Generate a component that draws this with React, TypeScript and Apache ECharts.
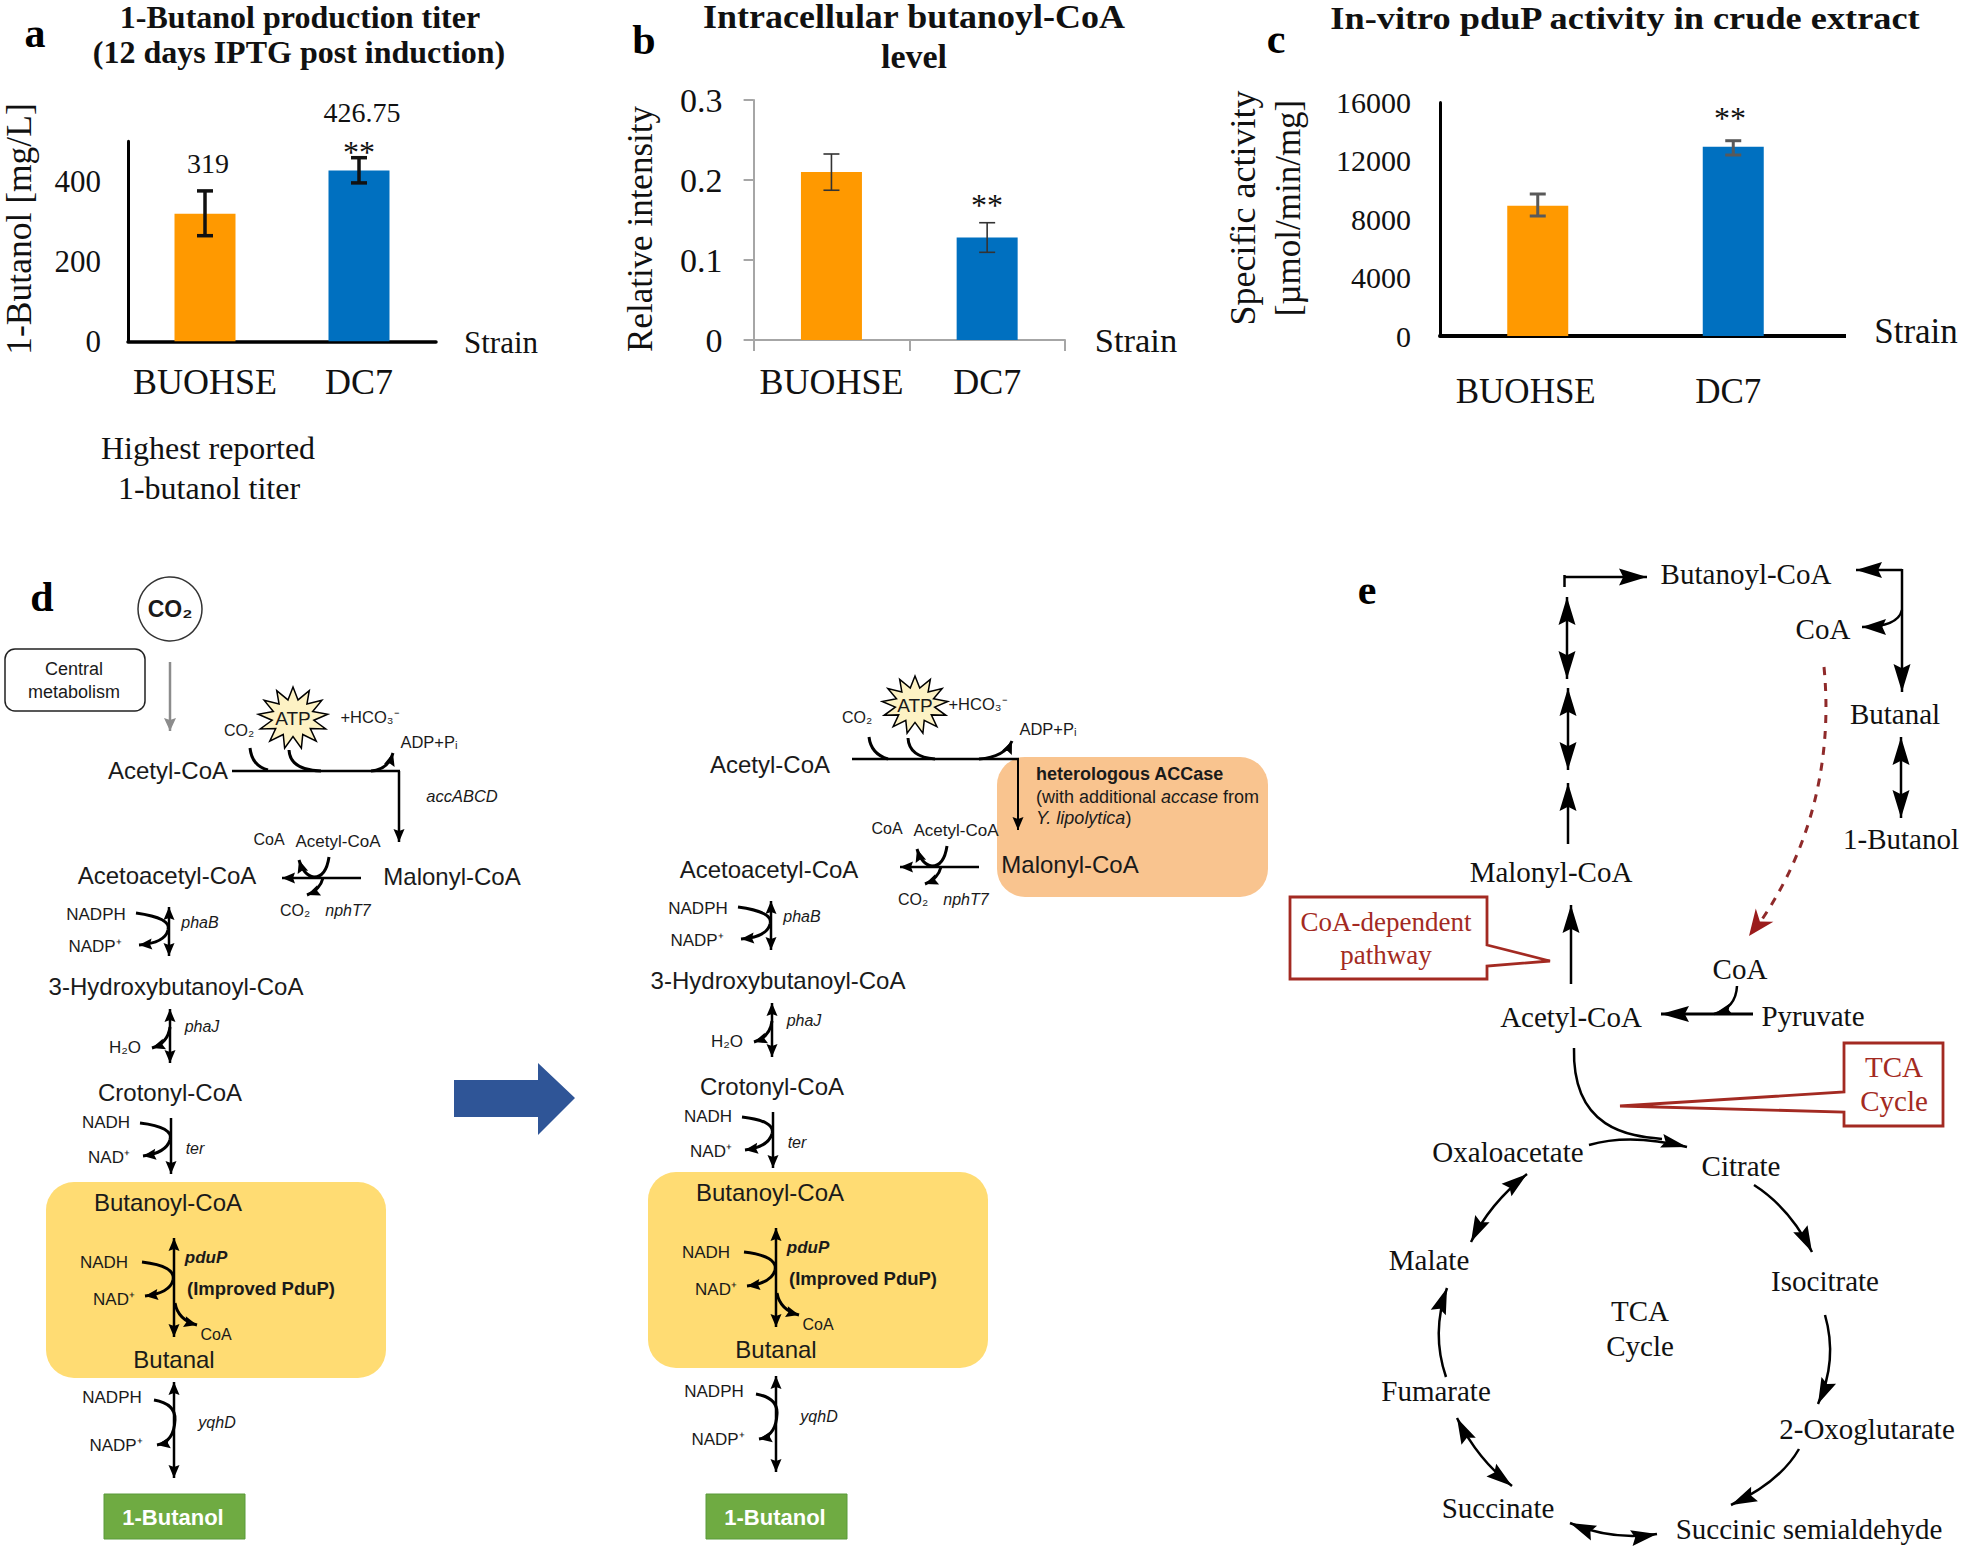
import React, { useEffect, useRef } from "react";
import * as echarts from "echarts";

// ---------- data ----------
const strains = ["BUOHSE", "DC7"];
const titerValues = [319, 426.75];
const titerErrHigh = [376, 459];
const titerErrLow = [264, 396];
const titerTicks = { max: 500, interval: 200 };
const butanoylValues = [0.21, 0.128];
const butanoylErrHigh = [0.2325, 0.1466];
const butanoylErrLow = [0.1872, 0.1096];
const activityValues = [8924, 12966];
const activityErrHigh = [9726, 13376];
const activityErrLow = [8219, 12397];

const SERIF = "'Liberation Serif', 'Times New Roman', serif";
const SANS = "'Liberation Sans', Arial, sans-serif";
const INK = "#1a1a1a";
const BLACK = "#000000";
const RED = "#a32a22";
const ORANGE = "#ff9900";
const BLUE = "#0070c0";

// ---------- graphic helpers ----------
type Opt = {
  size?: number; font?: string; weight?: string; style?: string; fill?: string;
  align?: string; rotate?: number; rich?: any; scaleX?: number;
};
const T = (text: string, x: number, y: number, o: Opt = {}) => ({
  type: "text", x, y, silent: true, rotation: o.rotate ?? 0, scaleX: o.scaleX ?? 1,
  style: {
    text, fontSize: o.size ?? 17, fontFamily: o.font ?? SANS, fontWeight: o.weight ?? "normal",
    fontStyle: o.style ?? "normal", fill: o.fill ?? INK, align: o.align ?? "center",
    verticalAlign: "middle", rich: o.rich,
  },
});
const S = (text: string, x: number, y: number, size = 29, o: Opt = {}) =>
  T(text, x, y, { font: SERIF, size, fill: "#111111", ...o });
const line = (x1: number, y1: number, x2: number, y2: number, lw = 2.5, color = BLACK) => ({
  type: "line", silent: true, shape: { x1, y1, x2, y2 }, style: { stroke: color, lineWidth: lw },
});
const curve = (x1: number, y1: number, cx: number, cy: number, x2: number, y2: number, lw = 3, color = BLACK, dash?: number[]) => ({
  type: "bezierCurve", silent: true, shape: { x1, y1, x2, y2, cpx1: cx, cpy1: cy },
  style: { stroke: color, lineWidth: lw, fill: "none", lineDash: dash },
});
const head = (tx: number, ty: number, fx: number, fy: number, len = 13, hw = 5.5, color = BLACK, notch = 0.85) => {
  const d = Math.hypot(tx - fx, ty - fy) || 1;
  const ux = (tx - fx) / d, uy = (ty - fy) / d;
  const nx = -uy, ny = ux;
  return {
    type: "polygon", silent: true,
    shape: { points: [
      [tx, ty],
      [tx - ux * len + nx * hw, ty - uy * len + ny * hw],
      [tx - ux * len * notch, ty - uy * len * notch],
      [tx - ux * len - nx * hw, ty - uy * len - ny * hw],
    ] },
    style: { fill: color },
  };
};
type AO = { lw?: number; len?: number; hw?: number; both?: boolean; color?: string; dash?: number[] };
const arrow = (x1: number, y1: number, x2: number, y2: number, o: AO = {}) => {
  const { lw = 2.5, len = 13, hw = 5.5, both = false, color = BLACK } = o;
  return [line(x1, y1, x2, y2, lw, color), head(x2, y2, x1, y1, len, hw, color), ...(both ? [head(x1, y1, x2, y2, len, hw, color)] : [])];
};
const carrow = (x1: number, y1: number, cx: number, cy: number, x2: number, y2: number, o: AO = {}) => {
  const { lw = 3, len = 13, hw = 5.5, both = false, color = BLACK, dash } = o;
  return [curve(x1, y1, cx, cy, x2, y2, lw, color, dash), head(x2, y2, cx, cy, len, hw, color), ...(both ? [head(x1, y1, cx, cy, len, hw, color)] : [])];
};
const star = (cx: number, cy: number, rx: number, ry: number) => {
  const pts: number[][] = [];
  const n = 13;
  for (let i = 0; i < n * 2; i++) {
    const a = (i * Math.PI) / n - Math.PI / 2;
    const k = i % 2 === 0 ? 1 : 0.6;
    pts.push([cx + Math.cos(a) * rx * k, cy + Math.sin(a) * ry * k]);
  }
  return { type: "polygon", silent: true, shape: { points: pts }, style: { fill: "#fdf2c4", stroke: BLACK, lineWidth: 1.5 } };
};
const roundBox = (x: number, y: number, w: number, h: number, r: number, fill: string, stroke?: string, lw = 0) => ({
  type: "rect", silent: true, shape: { x, y, width: w, height: h, r },
  style: { fill, stroke: stroke ?? "none", lineWidth: lw },
});

// ---------- pathway column shared by both halves of panel d ----------
const ADD = { size: 17 };
function lowerColumn(dx: number, dA: number, dY: number, dB: number, dG: number) {
  const e: any[] = [];
  const a = dA;
  e.push(T("Acetoacetyl-CoA", 167 + dx, 875 + a, { size: 24 }));
  e.push(T("NADPH", 96 + dx, 914 + a, ADD), T("NADP\u207A", 95 + dx, 946 + a, ADD));
  e.push(T("phaB", 200 + dx, 922 + a, { size: 16, style: "italic" }));
  e.push(...arrow(169 + dx, 907 + a, 169 + dx, 956 + a, { both: true }));
  e.push(curve(136 + dx, 913 + a, 172 + dx, 918 + a, 168 + dx, 930 + a));
  e.push(...carrow(168 + dx, 930 + a, 165 + dx, 943 + a, 139 + dx, 945 + a));
  e.push(T("3-Hydroxybutanoyl-CoA", 176 + dx, 986 + a, { size: 24 }));
  e.push(...arrow(170 + dx, 1009 + a, 170 + dx, 1063 + a, { both: true }));
  e.push(T("phaJ", 202 + dx, 1026 + a, { size: 16, style: "italic" }));
  e.push(T("H\u2082O", 125 + dx, 1047 + a, ADD));
  e.push(...carrow(170 + dx, 1027 + a, 168 + dx, 1043 + a, 152 + dx, 1048 + a));
  e.push(T("Crotonyl-CoA", 170 + dx, 1092 + a, { size: 24 }));
  e.push(T("NADH", 106 + dx, 1122 + a, ADD), T("NAD\u207A", 109 + dx, 1157 + a, ADD));
  e.push(T("ter", 195 + dx, 1148 + a, { size: 16, style: "italic" }));
  e.push(...arrow(171 + dx, 1118 + a, 171 + dx, 1174 + a));
  e.push(curve(140 + dx, 1123 + a, 174 + dx, 1127 + a, 170 + dx, 1140 + a));
  e.push(...carrow(170 + dx, 1140 + a, 166 + dx, 1153 + a, 143 + dx, 1156 + a));

  const y = dY;
  e.push(roundBox(46 + dx, 1182 + y, 340, 196, 28, "#ffdc73"));
  e.push(T("Butanoyl-CoA", 168 + dx, 1202 + y, { size: 24 }));
  e.push(...arrow(174 + dx, 1238 + y, 174 + dx, 1337 + y, { both: true }));
  e.push(T("pduP", 206 + dx, 1257 + y, { size: 17, style: "italic", weight: "bold" }));
  e.push(T("(Improved PduP)", 261 + dx, 1288 + y, { size: 18.5, weight: "bold" }));
  e.push(T("NADH", 104 + dx, 1262 + y, ADD), T("NAD\u207A", 114 + dx, 1299 + y, ADD));
  e.push(curve(142 + dx, 1262 + y, 176 + dx, 1266 + y, 173 + dx, 1280 + y));
  e.push(...carrow(173 + dx, 1280 + y, 170 + dx, 1293 + y, 145 + dx, 1296 + y));
  e.push(...carrow(175 + dx, 1303 + y, 178 + dx, 1320 + y, 197 + dx, 1325 + y));
  e.push(T("CoA", 216 + dx, 1334 + y, { size: 16 }));
  e.push(T("Butanal", 174 + dx, 1359 + y, { size: 24 }));

  const b = dB;
  e.push(...arrow(174 + dx, 1382 + b, 174 + dx, 1478 + b, { both: true }));
  e.push(T("NADPH", 112 + dx, 1397 + b, ADD), T("NADP\u207A", 116 + dx, 1445 + b, ADD));
  e.push(T("yqhD", 217 + dx, 1422 + b, { size: 16, style: "italic" }));
  e.push(curve(154 + dx, 1400 + b, 176 + dx, 1404 + b, 175 + dx, 1420 + b));
  e.push(...carrow(175 + dx, 1420 + b, 174 + dx, 1442 + b, 157 + dx, 1445 + b));

  e.push(roundBox(104 + dx, 1494 + dG, 141, 45, 0, "#6fab42", "#5b9a3a", 1));
  e.push(T("1-Butanol", 173 + dx, 1517 + dG, { size: 22, weight: "bold", fill: "#ffffff" }));
  return e;
}
function nphBlock(dx: number, dy: number) {
  const e: any[] = [];
  e.push(T("CoA", 267 + dx + 2, 843 + dy - 4, { size: 16 }));
  e.push(T("Acetyl-CoA", 337 + dx + 1, 841 + dy, { size: 17 }));
  e.push(...arrow(361 + dx, 878 + dy, 282 + dx, 878 + dy));
  e.push(curve(329 + dx, 857 + dy, 326 + dx, 877 + dy, 314 + dx, 877 + dy));
  e.push(...carrow(314 + dx, 877 + dy, 304 + dx, 876 + dy, 299 + dx, 860 + dy));
  e.push(...carrow(323 + dx, 878 + dy, 320 + dx, 890 + dy, 307 + dx, 895 + dy));
  e.push(T("CO\u2082", 295 + dx, 910 + dy, { size: 16 }));
  e.push(T("nphT7", 348 + dx, 910 + dy, { size: 16, style: "italic" }));
  return e;
}

// ---------- all non-axis elements ----------
function buildGraphic() {
  const g: any[] = [];
  // panel letters
  g.push(S("a", 35, 33, 42, { weight: "bold", fill: BLACK }));
  g.push(S("b", 644, 40, 42, { weight: "bold", fill: BLACK }));
  g.push(S("c", 1276, 39, 42, { weight: "bold", fill: BLACK }));
  g.push(S("d", 42, 597, 42, { weight: "bold", fill: BLACK }));
  g.push(S("e", 1367, 590, 42, { weight: "bold", fill: BLACK }));

  // titles
  g.push(S("1-Butanol production titer", 300, 17, 32, { weight: "bold" }));
  g.push(S("(12 days IPTG post induction)", 299, 52, 32, { weight: "bold" }));
  g.push(S("Intracellular butanoyl-CoA", 914, 17, 33, { weight: "bold", scaleX: 1.09 }));
  g.push(S("level", 914, 56, 34, { weight: "bold" }));
  g.push(S("In-vitro pduP activity in crude extract", 1625, 18, 32, { weight: "bold", scaleX: 1.135 }));

  // axis names and chart annotations
  const up = Math.PI / 2;
  g.push(S("1-Butanol [mg/L]", 19, 229, 35.5, { rotate: up }));
  g.push(S("Relative intensity", 640, 229, 35, { rotate: up }));
  g.push(S("Specific activity", 1243, 208, 36, { rotate: up }));
  g.push(S("[\u00B5mol/min/mg]", 1288, 208, 35, { rotate: up }));
  g.push(S("Strain", 501, 342, 31), S("Strain", 1136, 340, 34.5), S("Strain", 1916, 331, 35));
  g.push(S(String(titerValues[0]), 208, 163, 28), S(String(titerValues[1]), 362, 112, 28));
  g.push(S("**", 359, 152, 32), S("**", 987, 205, 32), S("**", 1730, 118, 32));
  g.push(S("Highest reported", 208, 448, 32), S("1-butanol titer", 209, 488, 32));
  g.push(line(1440, 336, 1846, 336, 4, BLACK));

  // panel d, left
  g.push({ type: "circle", silent: true, shape: { cx: 170, cy: 609, r: 32 }, style: { fill: "#fff", stroke: "#333", lineWidth: 1.5 } });
  g.push(T("CO\u2082", 170, 609, { size: 23, weight: "bold" }));
  g.push(roundBox(5, 649, 140, 62, 10, "#fff", "#222", 1.5));
  g.push(T("Central", 74, 669, { size: 18 }), T("metabolism", 74, 692, { size: 18 }));
  g.push(...arrow(170, 662, 170, 731, { color: "#8c8c8c", lw: 2.5, len: 13, hw: 6 }));
  g.push(star(293, 718, 35, 31), T("ATP", 293, 718, { size: 19 }));
  g.push(T("CO\u2082", 239, 730, { size: 16 }), T("+HCO\u2083\u207B", 370, 717, { size: 16.5 }), T("ADP+P\u1D62", 429, 742, { size: 16.5 }));
  g.push(T("Acetyl-CoA", 168, 770, { size: 24 }));
  g.push(line(232, 771, 400, 771, 2.5));
  g.push(...arrow(399, 771, 399, 842));
  g.push(curve(250, 748, 252, 766, 268, 770));
  g.push(curve(289, 750, 290, 770, 321, 771));
  g.push(...carrow(371, 771, 388, 770, 393, 753));
  g.push(T("accABCD", 462, 796, { size: 16.5, style: "italic" }));
  g.push(T("Malonyl-CoA", 452, 876, { size: 24 }));
  g.push(...nphBlock(0, 0));
  g.push(...lowerColumn(0, 0, 0, 0, 0));

  // big arrow
  g.push({
    type: "polygon", silent: true,
    shape: { points: [[454, 1080], [538, 1080], [538, 1063], [575, 1098], [538, 1135], [538, 1117], [454, 1117]] },
    style: { fill: "#2f5597" },
  });

  // panel d, right
  g.push(roundBox(997, 757, 271, 140, 28, "#f9c48f"));
  g.push(star(915, 705, 33, 29), T("ATP", 915, 705, { size: 19 }));
  g.push(T("CO\u2082", 857, 717, { size: 16 }), T("+HCO\u2083\u207B", 978, 704, { size: 16.5 }), T("ADP+P\u1D62", 1048, 729, { size: 16.5 }));
  g.push(T("Acetyl-CoA", 770, 764, { size: 24 }));
  g.push(line(852, 759, 1019, 759, 2.5));
  g.push(...arrow(1018, 759, 1018, 830, { lw: 2 }));
  g.push(curve(869, 737, 871, 754, 888, 759));
  g.push(curve(908, 738, 909, 757, 935, 759));
  g.push(...carrow(979, 759, 1005, 757, 1012, 741));
  const italicRich = { i: { fontStyle: "italic", fontSize: 18, fontFamily: SANS, fill: INK } };
  g.push(T("heterologous ACCase", 1036, 774, { size: 18, weight: "bold", align: "left" }));
  g.push(T("(with additional {i|accase} from", 1036, 797, { size: 18, align: "left", rich: italicRich }));
  g.push(T("{i|Y. lipolytica})", 1036, 818, { size: 18, align: "left", rich: italicRich }));
  g.push(T("Malonyl-CoA", 1070, 864, { size: 24 }));
  g.push(...nphBlock(618, -11));
  g.push(...lowerColumn(602, -6, -10, -6, 0));

  // panel e
  const big: AO = { lw: 2.5, len: 28, hw: 8.5 };
  g.push(line(1564.5, 575, 1564.5, 587, 2.5));
  g.push(...arrow(1564.5, 577, 1647, 577, big));
  g.push(S("Butanoyl-CoA", 1746, 574));
  g.push(...arrow(1567, 597, 1567, 679, { ...big, both: true }));
  g.push(...arrow(1568, 688, 1568, 770, { ...big, both: true }));
  g.push(...arrow(1568, 844, 1568, 783, big));
  g.push(S("Malonyl-CoA", 1551, 872));
  g.push(...arrow(1571, 984, 1571, 905, big));
  g.push(S("Acetyl-CoA", 1571, 1017));

  g.push(...arrow(1902, 570, 1856, 570, { lw: 2.5, len: 26, hw: 8 }));
  g.push(...arrow(1902, 569, 1902, 692, big));
  g.push(...carrow(1902, 610, 1898, 627, 1862, 627, { lw: 2.5, len: 24, hw: 8 }));
  g.push(S("CoA", 1823, 629), S("Butanal", 1895, 714), S("1-Butanol", 1901, 839));
  g.push(...arrow(1901, 737, 1901, 818, { ...big, both: true }));

  g.push({
    type: "bezierCurve", silent: true,
    shape: { x1: 1824, y1: 667, cpx1: 1834, cpy1: 770, cpx2: 1805, cpy2: 860, x2: 1756, y2: 928 },
    style: { stroke: "#8f2a2a", lineWidth: 3, fill: "none", lineDash: [8, 8] },
  });
  g.push(head(1749, 936, 1767, 912, 26, 11, "#9b1c1c", 0.7));

  g.push(S("CoA", 1740, 969), S("Pyruvate", 1813, 1016));
  g.push(...arrow(1753, 1014, 1661, 1014, { lw: 3, len: 28, hw: 8 }));
  g.push(...carrow(1737, 986, 1736, 1008, 1714, 1014, { lw: 2.5, len: 18, hw: 6 }));

  const callout = (pts: number[][]) => ({
    type: "polygon", silent: true, shape: { points: pts }, style: { fill: "#fff", stroke: RED, lineWidth: 2.8 },
  });
  g.push(callout([[1290, 897], [1487, 897], [1487, 945], [1550, 961], [1487, 966], [1487, 979], [1290, 979]]));
  g.push(S("CoA-dependent", 1386, 922, 27, { fill: RED }), S("pathway", 1386, 955, 27, { fill: RED }));
  g.push(callout([[1844, 1043], [1943, 1043], [1943, 1126], [1844, 1126], [1844, 1112], [1620, 1106], [1844, 1092]]));
  g.push(S("TCA", 1894, 1067, 29, { fill: RED }), S("Cycle", 1894, 1101, 29, { fill: RED }));

  // TCA cycle
  g.push({
    type: "bezierCurve", silent: true,
    shape: { x1: 1574, y1: 1048, cpx1: 1572, cpy1: 1130, cpx2: 1630, cpy2: 1136, x2: 1662, y2: 1139 },
    style: { stroke: BLACK, lineWidth: 2.5, fill: "none" },
  });
  g.push(...carrow(1589, 1145, 1630, 1133, 1687, 1147, { lw: 2.5, len: 26, hw: 7 }));
  const cyc: AO = { lw: 2.5, len: 26, hw: 8 };
  g.push(S("Oxaloacetate", 1508, 1152), S("Citrate", 1741, 1166), S("Isocitrate", 1825, 1281));
  g.push(S("2-Oxoglutarate", 1867, 1429), S("Succinic semialdehyde", 1809, 1529), S("Succinate", 1498, 1508));
  g.push(S("Fumarate", 1436, 1391), S("Malate", 1429, 1260), S("TCA", 1640, 1311), S("Cycle", 1640, 1346));
  g.push(...carrow(1754, 1185, 1790, 1208, 1812, 1252, cyc));
  g.push(...carrow(1825, 1315, 1838, 1360, 1818, 1404, cyc));
  g.push(...carrow(1799, 1449, 1780, 1482, 1731, 1505, cyc));
  g.push(...carrow(1657, 1534, 1613, 1541, 1570, 1523, { ...cyc, both: true }));
  g.push(...carrow(1512, 1486, 1478, 1460, 1457, 1418, { ...cyc, both: true }));
  g.push(...carrow(1446, 1377, 1431, 1333, 1447, 1288, cyc));
  g.push(...carrow(1471, 1242, 1490, 1203, 1527, 1174, { ...cyc, both: true }));
  return g;
}

// ---------- chart option ----------
const axisIdx = (i: number) => ({ xAxisIndex: i, yAxisIndex: i });
const errorRender = (color: string, lw: number, cap: number) => (_p: any, api: any) => {
  const hi = api.coord([api.value(0), api.value(1)]);
  const lo = api.coord([api.value(0), api.value(2)]);
  const st = { stroke: color, lineWidth: lw };
  return {
    type: "group",
    children: [
      { type: "line", shape: { x1: hi[0], y1: hi[1], x2: lo[0], y2: lo[1] }, style: st },
      { type: "line", shape: { x1: hi[0] - cap, y1: hi[1], x2: hi[0] + cap, y2: hi[1] }, style: st },
      { type: "line", shape: { x1: lo[0] - cap, y1: lo[1], x2: lo[0] + cap, y2: lo[1] }, style: st },
    ],
  };
};
const barSeries = (i: number, values: number[]) => ({
  type: "bar", ...axisIdx(i), barWidth: 61, silent: true,
  data: values.map((v, k) => ({ value: v, itemStyle: { color: k === 0 ? ORANGE : BLUE } })),
});
const errSeries = (i: number, hi: number[], lo: number[], color: string, lw: number, cap: number) => ({
  type: "custom", ...axisIdx(i), silent: true, z: 5,
  renderItem: errorRender(color, lw, cap),
  data: hi.map((h, k) => [k, h, lo[k]]),
  encode: { x: 0, y: [1, 2] },
});
const labelFont = { fontFamily: SERIF, color: "#111111" };
const plain = (v: number) => String(v);

function buildOption() {
  return {
    animation: false,
    backgroundColor: "#ffffff",
    grid: [
      { left: 128, top: 141.3, width: 308, height: 200 },
      { left: 753.6, top: 100, width: 311.4, height: 240 },
      { left: 1440, top: 102.4, width: 391, height: 233.6 },
    ],
    xAxis: [
      {
        gridIndex: 0, type: "category", data: strains,
        axisLine: { lineStyle: { color: BLACK, width: 3.5 } }, axisTick: { show: false },
        axisLabel: { ...labelFont, fontSize: 36, margin: 23, interval: 0, hideOverlap: false },
      },
      {
        gridIndex: 1, type: "category", data: strains,
        axisLine: { lineStyle: { color: "#a6a6a6", width: 2 } },
        axisTick: { show: true, length: 11, lineStyle: { color: "#a6a6a6", width: 2 } },
        axisLabel: { ...labelFont, fontSize: 36, margin: 24, interval: 0, hideOverlap: false },
      },
      {
        gridIndex: 2, type: "category", data: strains,
        axisLine: { lineStyle: { color: BLACK, width: 4 } }, axisTick: { show: false },
        axisLabel: {
          ...labelFont, fontSize: 35, margin: 38, interval: 0, hideOverlap: false,
          formatter: (v: string) => (v === strains[0] ? `{a|${v}}` : `{b|${v}}`),
          rich: {
            a: { ...labelFont, fontSize: 35, padding: [0, 24, 0, 0] },
            b: { ...labelFont, fontSize: 35, padding: [0, 10, 0, 0] },
          },
        },
      },
    ],
    yAxis: [
      {
        gridIndex: 0, type: "value", min: 0, max: titerTicks.max, interval: titerTicks.interval,
        splitLine: { show: false },
        axisLine: { show: true, lineStyle: { color: BLACK, width: 3 } }, axisTick: { show: false },
        axisLabel: { ...labelFont, fontSize: 31, margin: 27, showMaxLabel: false },
      },
      {
        gridIndex: 1, type: "value", min: 0, max: 0.3, interval: 0.1,
        splitLine: { show: false },
        axisLine: { show: true, lineStyle: { color: "#a6a6a6", width: 2 } },
        axisTick: { show: true, length: 10, lineStyle: { color: "#a6a6a6", width: 2 } },
        axisLabel: { ...labelFont, fontSize: 34, margin: 31 },
      },
      {
        gridIndex: 2, type: "value", min: 0, max: 16000, interval: 4000,
        splitLine: { show: false },
        axisLine: { show: true, lineStyle: { color: BLACK, width: 3 } }, axisTick: { show: false },
        axisLabel: { ...labelFont, fontSize: 30, margin: 29, formatter: plain },
      },
    ],
    series: [
      barSeries(0, titerValues),
      barSeries(1, butanoylValues),
      barSeries(2, activityValues),
      errSeries(0, titerErrHigh, titerErrLow, "#111111", 3.5, 8),
      errSeries(1, butanoylErrHigh, butanoylErrLow, "#333333", 1.6, 8),
      errSeries(2, activityErrHigh, activityErrLow, "#595959", 3, 8),
    ],
    graphic: { elements: buildGraphic() },
  };
}

export default function App() {
  const ref = useRef<HTMLDivElement>(null);
  useEffect(() => {
    const chart = echarts.init(ref.current!, undefined, { renderer: "svg" });
    chart.setOption(buildOption() as any);
    return () => chart.dispose();
  }, []);
  return <div ref={ref} style={{ position: "absolute", left: 0, top: 0, width: 1961, height: 1547, background: "#fff" }} />;
}
